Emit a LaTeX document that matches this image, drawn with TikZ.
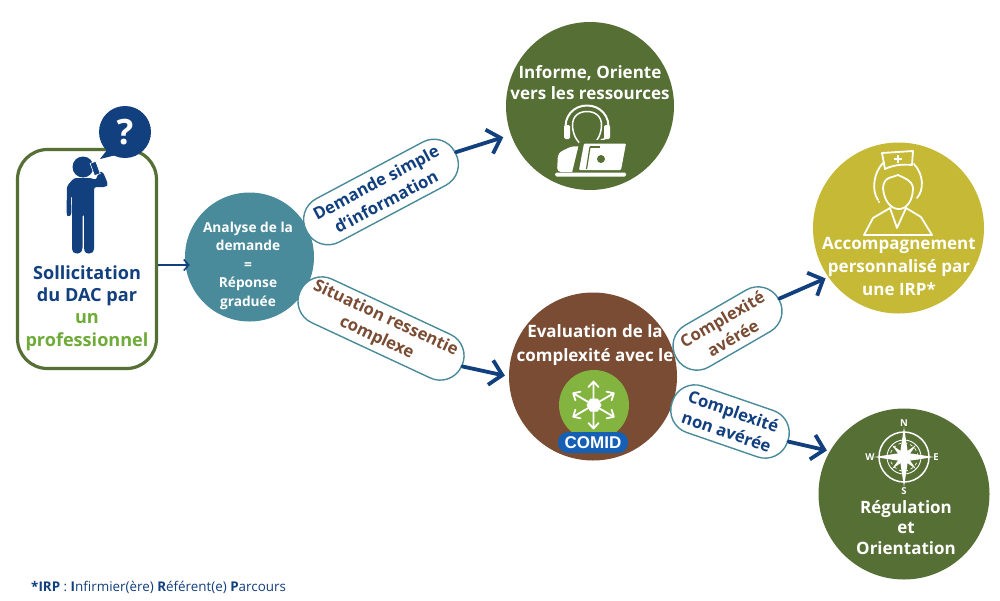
\documentclass[tikz,border=0pt]{standalone}
\usepackage{fontspec}
\setmainfont{Open Sans}
\usetikzlibrary{arrows.meta}
\definecolor{navy}{HTML}{123F7E}
\definecolor{olive}{HTML}{566F35}
\definecolor{teal2}{HTML}{4A8B9B}
\definecolor{mustard}{HTML}{C5B935}
\definecolor{brownc}{HTML}{794C33}
\definecolor{leaf}{HTML}{6FAB38}
\definecolor{comidg}{HTML}{83B440}
\definecolor{comidb}{HTML}{155FB5}
\newcommand{\fs}[2]{\fontsize{#1}{#2}\selectfont}
\tikzset{
  disc/.style={circle,inner sep=0pt,minimum size=#1,fill=none},
  pill/.style={draw=teal2,line width=1.4pt,fill=white,rounded corners=23.5pt,inner sep=0pt,align=center,font=\bfseries\fs{16.7}{21.5}},
  label/.style={white,font=\bfseries\fs{17}{21},align=center,inner sep=0pt},
  bigarrow/.style={draw=navy,line width=3.8pt,line cap=round,line join=round,-{Straight Barb[length=12pt,width=25pt,line width=3.8pt]}},
  iconline/.style={draw=white,line width=1.8pt,line cap=round,line join=round},
}
\begin{document}
\begin{tikzpicture}[x=1pt,y=-1pt]
\useasboundingbox (0,0) rectangle (1000,600);
\fill[white] (0,0) rectangle (1000,600);
% start box
\node[draw=olive,line width=3.2pt,rounded corners=30pt,minimum width=139pt,minimum height=219pt,inner sep=0pt] (box) at (87,259) {};
% speech bubble
\fill[navy] (125,132) circle (26);
\fill[navy] (107,150) -- (100,159) -- (120,154) -- cycle;
\node[white,inner sep=0pt,font=\bfseries\fs{35}{35}] (qm) at (125,132) {?};
% person
\fill[navy] (83,167) circle (10.5);
\fill[navy,rounded corners=2.5pt] (74,178) -- (91,178) -- (96,180) -- (99,171.5) -- (103,172) -- (108,184) -- (106,187) -- (94,187) -- (94,251) -- (91,253.5) -- (86,253.5) -- (84,250) -- (84,214) -- (82.5,214) -- (82.5,250) -- (80,253.5) -- (75,253.5) -- (72,251) -- (72,195) -- (71,195) -- (71.5,215) -- (68,217) -- (66.5,214) -- (67,186) -- cycle;
\draw[white,line width=.6pt,fill=navy,rotate around={20:(95,168)}] (92,162) rectangle (98,175);
\node[inner sep=0pt,align=center,font=\bfseries\fs{18.1}{22.2},text=navy] (st) at (87,308) {Sollicitation\\du DAC par\\\textcolor{leaf}{un}\\\textcolor{leaf}{professionnel}};
% circles
\fill[teal2] (249.5,257) circle (64.5); \node[disc=129pt] (ana) at (249.5,257) {};
\fill[olive] (590,106) circle (84); \node[disc=168pt] (inf) at (590,106) {};
\fill[mustard] (898.5,228) circle (85.5); \node[disc=171pt] (irp) at (898.5,228) {};
\fill[brownc] (593,376.5) circle (84); \node[disc=168pt] (eva) at (593,376.5) {};
\fill[olive] (904,494) circle (85.5); \node[disc=171pt] (reg) at (904,494) {};
% circle texts
\node[label,font=\bfseries\fs{13.7}{18.5}] (analt) at (248,265.5) {Analyse de la\\demande\\=\\Réponse\\graduée};
\node[label] (inft) at (590,83) {Informe, Oriente\\vers les ressources};
\node[label,font=\bfseries\fs{17}{23}] (irpt) at (899,266) {Accompagnement\\personnalisé par\\une IRP*};
\node[label,font=\bfseries\fs{17}{24}] (evat) at (595,345) {Evaluation de la\\complexité avec le};
\node[label,font=\bfseries\fs{17}{20.5}] (regt) at (906,527.5) {Régulation\\et\\Orientation};
% pills
\node[pill,rotate=28,minimum width=168pt,minimum height=49pt,text=navy] (p1) at (381,192) {Demande simple\\d'information};
\node[pill,rotate=-25,minimum width=178pt,minimum height=48pt,text=brownc] (p2) at (381,328.5) {Situation ressentie\\complexe};
\node[pill,rotate=30,minimum width=118pt,minimum height=48pt,text=brownc] (p3) at (727.5,328.5) {Complexité\\avérée};
\node[pill,rotate=-19,minimum width=122pt,minimum height=49pt,text=navy] (p4) at (730,421.5) {Complexité\\non avérée};
% connectors
\draw[navy,line width=1.5pt,-{Straight Barb[length=5pt,width=11pt,line width=1.5pt]}] ([yshift=-6pt]box.east) -- ([xshift=5pt,yshift=-8pt]ana.west);
\draw[bigarrow,shorten >=8pt] (p1.east) -- (inf.200);
\draw[bigarrow,shorten >=4pt] (p2.east) -- (eva.west);
\draw[bigarrow,shorten >=3pt] (p3.east) -- (irp.215);
\draw[bigarrow,shorten >=3pt] (p4.east) -- (reg.150);
% agent icon
\begin{scope}
\draw[iconline,line width=2pt] (566,132) .. controls (563,116) and (574,105.5) .. (587,105.5) .. controls (600,105.5) and (611,116) .. (608,132);
\fill[white,rounded corners=1.5pt] (564,125) rectangle (570,139);
\fill[white,rounded corners=1.5pt] (604,125) rectangle (610,139);
\draw[iconline,line width=1.5pt] (572.5,125) .. controls (572.5,116) and (579,111.5) .. (587,111.5) .. controls (595,111.5) and (601.5,116) .. (601.5,125) .. controls (601.5,136) and (595,146) .. (587,146) .. controls (579,146) and (572.5,136) .. (572.5,125) -- cycle;
\draw[iconline,line width=1.5pt] (607,138) -- (601,140);
\fill[white,rounded corners=4pt] (557,172) -- (558,153) -- (572,146) -- (586,147) -- (577,172) -- cycle;
\fill[olive] (580,140) -- (628,140) -- (622,173) -- (572,173) -- cycle;
\fill[white,rounded corners=1pt] (584,143.5) -- (626,143.5) -- (621,170) -- (579,170) -- cycle;
\draw[olive,line width=1.2pt] (590,147) -- (586.5,169);
\draw[olive,line width=1.2pt] (590,147) -- (600,147);
\fill[olive] (601,159) circle (4);
\fill[white,rounded corners=1.5pt] (555,172.5) rectangle (626,176.5);
\end{scope}
% nurse icon
\begin{scope}
\draw[iconline] (882,153) -- (913,151) -- (912,165) .. controls (903,164) and (893,165) .. (885,169) -- cycle;
\draw[white,line width=2pt] (898,155) -- (898,163) (894,159) -- (902,159);
\draw[iconline] (883,163) .. controls (874,172) and (871,190) .. (878,200);
\draw[iconline] (914,164) .. controls (924,175) and (924,190) .. (917,198);
\draw[iconline] (883,188) .. controls (884,176) and (892,178) .. (898,175) .. controls (904,178) and (912,180) .. (913,188);
\draw[iconline] (883,188) .. controls (884,200) and (890,209) .. (899,209) .. controls (907,209) and (913,200) .. (913,188);
\draw[iconline] (864,235) -- (873,218) -- (890,208) -- (897,228) -- (906,208) -- (921,217) -- (932,235) -- cycle;
\fill[white] (879,202) circle (1.2);
\end{scope}
% COMID
\fill[comidg] (594,405) circle (35);
\fill[white] (601.5,405) -- (597.8,411.5) -- (590.2,411.5) -- (586.5,405) -- (590.2,398.5) -- (597.8,398.5) -- cycle;
\foreach \a in {90,30,-30,-90,-150,150}{
  \draw[white,line width=1.8pt,line cap=round,line join=round,shift={(593.5,405)},rotate=\a] (6,0) -- (23,0) (18,-5) -- (23.5,0) -- (18,5);
}
\node[fill=comidb,rounded corners=10pt,minimum width=70pt,minimum height=21pt,inner sep=0pt,text=white] (com) at (593,442.5) {\fontspec{Liberation Sans}\bfseries\fs{17}{17}COMID};
% compass
\begin{scope}[shift={(904,457)}]
\draw[white,line width=1.5pt] (0,0) circle (25);
\draw[white,line width=.9pt] (0,0) circle (17);
\draw[white,line width=.7pt,dashed] (0,0) circle (14);
\foreach \a in {45,135,225,315}{\fill[white,rotate=\a] (0,-3) -- (17,0) -- (0,3) -- cycle;}
\foreach \a in {0,90,180,270}{\fill[white,rotate=\a] (0,-4.5) -- (30,0) -- (0,4.5) -- cycle;}
\end{scope}
\foreach \t/\n/\px/\py in {N/cn/904/423,S/cs/904/491,W/cw/870/457,E/ce/936/457}{
  \node[white,inner sep=0pt,font=\bfseries\fs{9.5}{9.5}] (\n) at (\px,\py) {\t};
}
% footnote
\node[anchor=west,inner sep=0pt,text=navy,font=\fs{13.4}{13.4}] (foot) at (31,587) {\textbf{*IRP} : \textbf{I}nfirmier(ère) \textbf{R}éférent(e) \textbf{P}arcours};
\end{tikzpicture}
\end{document}
